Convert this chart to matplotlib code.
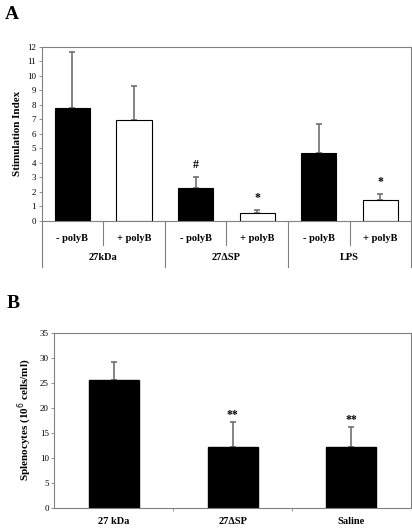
import numpy as np
import matplotlib
matplotlib.use("Agg")
import matplotlib.pyplot as plt

plt.rcParams['font.family'] = ['Liberation Serif', 'DejaVu Serif']

# panel A data
groupsA = ["27kDa", "27\u0394SP", "LPS"]
subsA = ["- polyB", "+ polyB", "- polyB", "+ polyB", "- polyB", "+ polyB"]
valsA = [7.8, 6.95, 2.25, 0.55, 4.65, 1.45]
errA = [3.85, 2.35, 0.75, 0.2, 2.05, 0.4]
colorsA = ["black", "white", "black", "white", "black", "white"]
marksA = ["", "", "#", "*", "", "*"]

# panel B data
catsB = ["27 kDa", "27\u0394SP", "Saline"]
valsB = [25.6, 12.1, 12.1]
errB = [3.6, 5.0, 4.0]
marksB = ["", "**", "**"]

fig = plt.figure(figsize=(4.12, 5.28), dpi=100)
frame = "#808080"
errc = "#707070"

# ---- panel A
ax = fig.add_axes([0.101, 0.5814, 0.897, 0.3302])
x = np.arange(len(valsA))
ax.bar(x, valsA, width=0.57, color=colorsA, edgecolor="black", linewidth=0.8, zorder=2)
ax.errorbar(x, valsA, yerr=[np.zeros(len(errA)), errA], fmt="none", ecolor=errc,
            elinewidth=1.2, capsize=2.5, capthick=1.2, zorder=1)
for xi, v, e, m in zip(x, valsA, errA, marksA):
    if m:
        ax.text(xi, v + e + 0.45, m, ha="center", va="bottom", fontsize=8.5, fontweight="bold")
ax.set_xlim(-0.5, 5.5)
ax.set_ylim(0, 12)
ax.set_yticks(range(0, 13))
ax.set_xticks([])
ax.tick_params(axis="y", labelsize=6.5, length=2, width=0.6, color=frame, pad=2)
for s in ax.spines.values():
    s.set_color(frame)
    s.set_linewidth(0.8)
ax.set_ylabel("Stimulation Index", fontsize=8, fontweight="bold", labelpad=4)

tr = ax.get_xaxis_transform()
for xs in [0.5, 2.5, 4.5]:
    ax.plot([xs, xs], [0, -0.138], transform=tr, color=frame, lw=0.8, clip_on=False)
for xs in [-0.5, 1.5, 3.5, 5.5]:
    ax.plot([xs, xs], [0, -0.264], transform=tr, color=frame, lw=0.8, clip_on=False)
for xi, lab in zip(x, subsA):
    ax.text(xi, -0.103, lab, transform=tr, ha="center", va="center", fontsize=7.5, fontweight="bold")
for gi, g in enumerate(groupsA):
    ax.text(2 * gi + 0.5, -0.212, g, transform=tr, ha="center", va="center", fontsize=7.5, fontweight="bold")

fig.text(0.012, 0.972, "A", fontsize=14, fontweight="bold", va="center")

# ---- panel B
bx = fig.add_axes([0.132, 0.0384, 0.865, 0.3316])
xb = np.arange(len(valsB))
bx.bar(xb, valsB, width=0.42, color="black", edgecolor="black", zorder=2)
bx.errorbar(xb, valsB, yerr=[np.zeros(len(errB)), errB], fmt="none", ecolor=errc,
            elinewidth=1.2, capsize=2.5, capthick=1.2, zorder=1)
for xi, v, e, m in zip(xb, valsB, errB, marksB):
    if m:
        bx.text(xi, v + e + 0.3, m, ha="center", va="bottom", fontsize=8.5, fontweight="bold")
bx.set_xlim(-0.5, 2.5)
bx.set_ylim(0, 35)
bx.set_yticks(range(0, 36, 5))
bx.set_xticks(xb)
bx.set_xticklabels(catsB, fontsize=7.5, fontweight="bold")
bx.tick_params(axis="x", length=0, pad=7)
bx.set_xticks([0.5, 1.5], minor=True)
bx.tick_params(axis="x", which="minor", length=2, width=0.6, color=frame)
bx.tick_params(axis="y", labelsize=6.5, length=2, width=0.6, color=frame, pad=2)
for s in bx.spines.values():
    s.set_color(frame)
    s.set_linewidth(0.8)
bx.set_ylabel("Splenocytes (10$^{6}$ cells/ml)", fontsize=8, fontweight="bold", labelpad=4)

fig.text(0.015, 0.426, "B", fontsize=14, fontweight="bold", va="center")

fig.savefig("out.png", dpi=100)
